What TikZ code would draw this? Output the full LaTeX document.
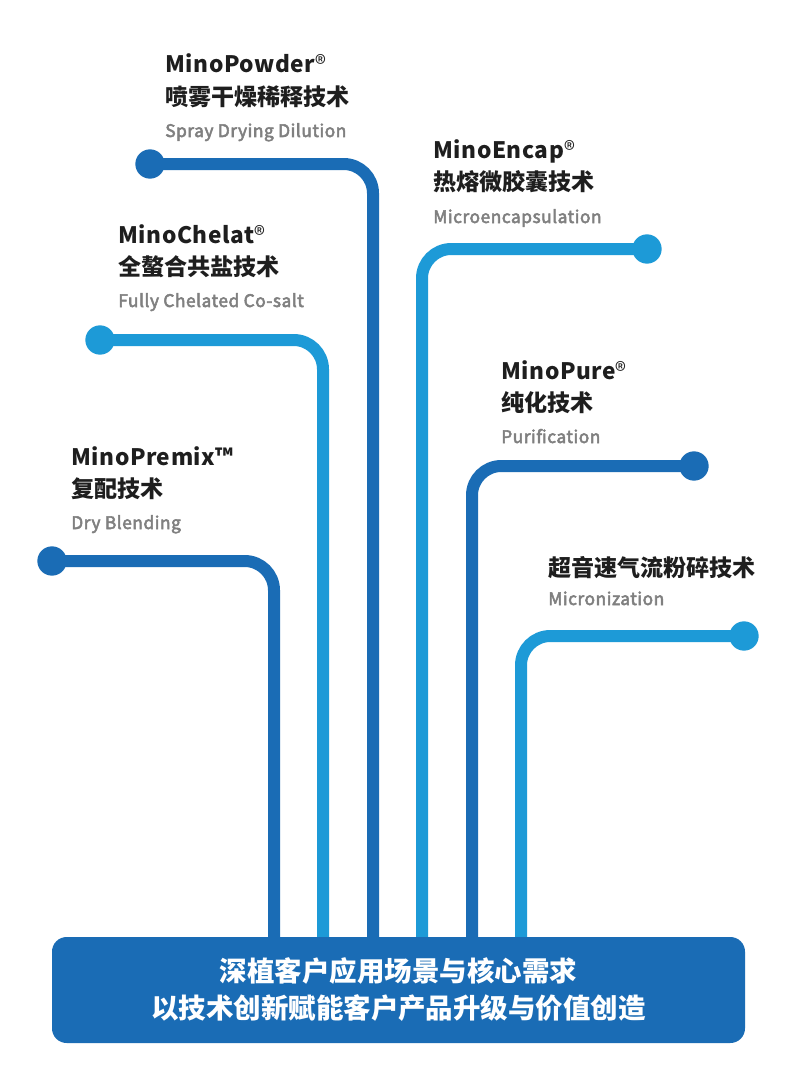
\documentclass[tikz,border=0pt]{standalone}
\usepackage{fontspec}
\setmainfont{Noto Sans CJK SC}
\definecolor{deepblue}{HTML}{1A6CB5}
\definecolor{skyblue}{HTML}{1D9AD7}
\definecolor{subgray}{HTML}{808080}
\definecolor{inkblack}{HTML}{1E1E1E}
\tikzset{
  track/.style={line width=9pt, rounded corners=22pt},
  dot/.style={circle, inner sep=0pt, minimum size=22pt},
  techname/.style={anchor=base west, inner sep=0pt, text=inkblack,
    font=\fontsize{17}{20}\selectfont\bfseries\addfontfeatures{LetterSpace=2.5}},
  techcn/.style={anchor=base west, inner sep=0pt, text=inkblack,
    font=\fontsize{17.3}{20}\selectfont\bfseries},
  techsub/.style={anchor=base west, inner sep=0pt, text=subgray,
    font=\fontsize{13}{15}\selectfont\addfontfeatures{LetterSpace=3,FakeBold=3}},
  corebox/.style={fill=deepblue, rounded corners=11pt, text=white, align=center,
    minimum width=519.75pt, minimum height=79.5pt,
    font=\fontsize{20.6}{27.75}\selectfont\bfseries},
}
\newcommand{\regmark}{{\fontsize{17}{17}\selectfont\mdseries ®}}
\begin{document}
\begin{tikzpicture}[x=0.75pt,y=-0.75pt]
  \useasboundingbox[fill=white] (0,0) rectangle (798,1074);
  % Draw end points
  \node[dot, fill=deepblue] (powder) at (150,164) {};
  \node[dot, fill=skyblue] (encap) at (647,249) {};
  \node[dot, fill=skyblue] (chelat) at (100,340) {};
  \node[dot, fill=deepblue] (pure) at (694,466) {};
  \node[dot, fill=deepblue] (premix) at (52,561) {};
  \node[dot, fill=skyblue] (micro) at (744,636) {};
  % Feet on the box
  \coordinate (f1) at (274,950);
  \coordinate (f2) at (323,950);
  \coordinate (f3) at (373,950);
  \coordinate (f4) at (422,950);
  \coordinate (f5) at (472,950);
  \coordinate (f6) at (521,950);
  % Draw dark blue tracks
  \draw[track, deepblue] (powder.center) -- (powder.center -| f3) -- (f3);
  \draw[track, deepblue] (pure.center) -- (pure.center -| f5) -- (f5);
  \draw[track, deepblue] (premix.center) -- (premix.center -| f1) -- (f1);
  % Draw light blue tracks
  \draw[track, skyblue] (encap.center) -- (encap.center -| f4) -- (f4);
  \draw[track, skyblue] (chelat.center) -- (chelat.center -| f2) -- (f2);
  \draw[track, skyblue] (micro.center) -- (micro.center -| f6) -- (f6);
  % Labels
  \node[techname] (powdername) at (165,73) {MinoPowder\regmark};
  \node[techcn] (powdercn) at (165,105) {喷雾干燥稀释技术};
  \node[techsub] (powdersub) at (165,137) {Spray Drying Dilution};
  \node[techname] (encapname) at (433,158) {MinoEncap\regmark};
  \node[techcn] (encapcn) at (433,190) {热熔微胶囊技术};
  \node[techsub] (encapsub) at (433,223) {Microencapsulation};
  \node[techname] (chelatname) at (118,243) {MinoChelat\regmark};
  \node[techcn] (chelatcn) at (118,275) {全螯合共盐技术};
  \node[techsub] (chelatsub) at (118,307) {Fully Chelated Co-salt};
  \node[techname] (purename) at (501,379) {MinoPure\regmark};
  \node[techcn] (purecn) at (501,411) {纯化技术};
  \node[techsub] (puresub) at (501,443) {Purification};
  \node[techname] (premixname) at (71,465) {MinoPremix™};
  \node[techcn] (premixcn) at (71,497) {复配技术};
  \node[techsub] (premixsub) at (71,529) {Dry Blending};
  \node[techcn] (microcn) at (548,576) {超音速气流粉碎技术};
  \node[techsub] (microsub) at (548,605) {Micronization};
  % Core box
  \node[corebox] (core) at (398.5,990) {深植客户应用场景与核心需求\\以技术创新赋能客户产品升级与价值创造};
\end{tikzpicture}
\end{document}
